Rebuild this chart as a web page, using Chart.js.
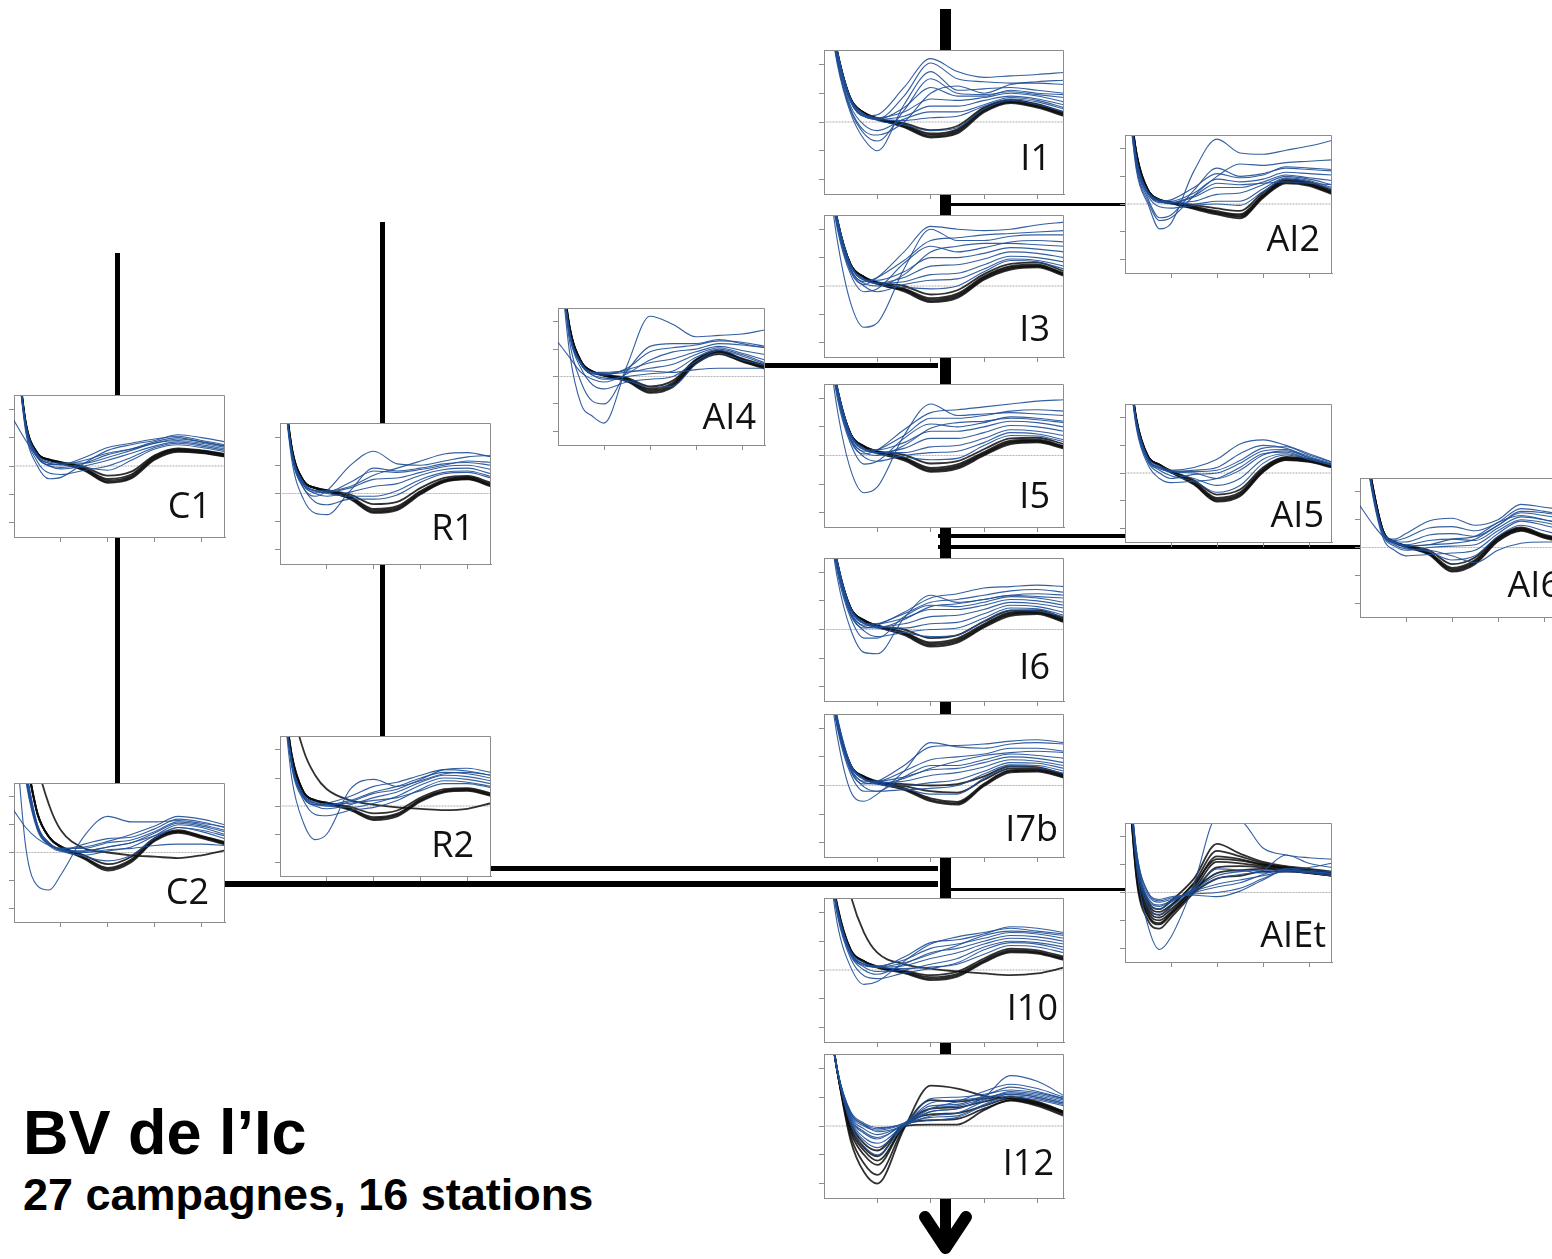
<!DOCTYPE html>
<html lang="fr">
<head>
<meta charset="utf-8">
<title>BV de l'Ic</title>
<script src="https://cdn.jsdelivr.net/npm/chart.js@4.4.1/dist/chart.umd.min.js"></script>
<style>
  html, body { margin: 0; padding: 0; background: #fff; }
  body { position: relative; width: 1552px; height: 1259px; overflow: hidden; }
  #network { position: absolute; left: 0; top: 0; z-index: 0; }
  canvas.mini { position: absolute; z-index: 1; }
  .lbl { position: absolute; z-index: 2; font-family: 'Open Sans', sans-serif; font-size: 36px; line-height: 36px; color: #111; white-space: nowrap; }
  .title { position: absolute; z-index: 2; left: 23px; font-family: 'Liberation Sans', Arial, sans-serif; font-weight: bold; color: #000; white-space: nowrap; }
</style>
</head>
<body>

<svg id="network" width="1552" height="1259">
  <g fill="#000">
    <rect x="940" y="9" width="11" height="1238"/>
    <rect x="115" y="253" width="5" height="530"/>
    <rect x="380" y="222" width="5" height="514"/>
    <rect x="951" y="203" width="174" height="3"/>
    <rect x="765" y="363" width="173" height="5"/>
    <rect x="938" y="534" width="187" height="4"/>
    <rect x="938" y="545" width="422" height="4"/>
    <rect x="491" y="866" width="447" height="5"/>
    <rect x="225" y="881" width="713" height="6"/>
    <rect x="951" y="888" width="174" height="3"/>
  </g>
  <polyline points="925,1217 945.5,1248 966,1217" fill="none" stroke="#000" stroke-width="12" stroke-linecap="round" stroke-linejoin="round"/>
</svg>

<div class="title" style="top:1101px;font-size:63px;line-height:63px;">BV de l’Ic</div>
<div class="title" style="top:1172px;font-size:45px;line-height:45px;">27 campagnes, 16 stations</div>

<script>
/* ============================================
   Data - one curve per campaign, per station
   ============================================ */

const xs = [0, 0.25, 0.5, 0.75, 1, 1.5, 2, 2.5, 3, 3.5, 4, 4.5];
const xTicks = [1, 2, 3, 4];
const yTicks = [-2, -1, 0, 1, 2];
const zeroLevel = 0;

const stations = ['I1', 'AI2', 'I3', 'AI4', 'I5', 'AI5', 'AI6', 'I6', 'I7b', 'AIEt', 'I10', 'I12', 'C1', 'R1', 'C2', 'R2'];

const I1_black = [
    [5, 2.4, 0.8, 0.32, 0.12, -0.12, -0.45, -0.3, 0.42, 0.72, 0.56, 0.27],
    [5.1, 2.45, 0.81, 0.31, 0.1, -0.15, -0.5, -0.35, 0.38, 0.69, 0.53, 0.24],
    [4.9, 2.35, 0.79, 0.33, 0.14, -0.09, -0.4, -0.25, 0.46, 0.75, 0.59, 0.3],
    [5, 2.4, 0.8, 0.31, 0.1, -0.04, -0.28, -0.14, 0.5, 0.77, 0.62, 0.34],
    [5.05, 2.42, 0.8, 0.3, 0.11, -0.18, -0.54, -0.4, 0.34, 0.66, 0.5, 0.21]
];
const I1_blue = [
    [5, 2.3, 0.7, 0.2, 0.25, 1.2, 2.2, 1.75, 1.55, 1.6, 1.65, 1.72],
    [5, 2.4, 0.75, 0.2, 0.1, 0.9, 2.05, 1.5, 1.4, 1.35, 1.35, 1.3],
    [5, 2.0, 0.3, -0.6, -1.0, 0.6, 1.75, 1.1, 1.15, 1.2, 1.1, 1.0],
    [5, 2.1, 0.4, -0.4, -0.66, 0.4, 1.5, 1.0, 0.95, 1.05, 0.95, 0.85],
    [5, 2.3, 0.7, 0.2, 0.1, 0.5, 1.2, 0.9, 0.9, 1.1, 1.0, 0.95],
    [5, 2.4, 0.75, 0.25, 0.15, 0.35, 0.8, 0.75, 0.85, 1.0, 0.9, 0.7],
    [5, 2.35, 0.7, 0.22, 0.1, 0.2, 0.55, 0.55, 0.75, 0.9, 0.8, 0.6],
    [5, 2.2, 0.55, -0.1, -0.3, 0.1, 0.35, 0.35, 0.6, 0.85, 0.75, 0.5],
    [5, 2.45, 0.8, 0.28, 0.1, 0.05, 0.15, 0.2, 0.55, 0.8, 0.7, 0.45],
    [5, 2.45, 0.8, 0.28, 0.05, -0.1, -0.3, -0.2, 0.45, 0.75, 0.6, 0.35],
    [5, 2.1, 0.45, -0.3, -0.45, 0.0, 1.0, 1.25, 1.0, 1.3, 1.4, 1.45]
];

const AI2_black = [
    [5, 1.8, 0.5, 0.15, 0.05, -0.12, -0.3, -0.42, 0.3, 0.82, 0.72, 0.42],
    [5.1, 1.85, 0.51, 0.14, 0.02, -0.15, -0.34, -0.47, 0.26, 0.78, 0.69, 0.39],
    [4.9, 1.75, 0.49, 0.16, 0.07, -0.09, -0.26, -0.37, 0.34, 0.86, 0.75, 0.45],
    [5, 1.8, 0.5, 0.16, 0.06, -0.04, -0.16, -0.25, 0.42, 0.9, 0.8, 0.5],
    [5, 1.82, 0.5, 0.14, 0.03, -0.18, -0.38, -0.52, 0.22, 0.75, 0.66, 0.36]
];
const AI2_blue = [
    [5, 1.2, 0.0, -0.9, -0.7, 1.2, 2.35, 1.85, 1.8, 1.95, 2.1, 2.3],
    [5, 1.4, 0.2, -0.5, -0.4, 0.5, 1.3, 1.0, 1.1, 1.3, 1.25, 1.2],
    [5, 1.6, 0.4, 0.1, 0.15, 0.6, 1.1, 0.95, 1.05, 1.35, 1.3, 1.25],
    [5, 1.6, 0.4, 0.1, 0.1, 0.4, 0.9, 0.8, 0.9, 1.15, 1.1, 1.05],
    [5, 1.55, 0.38, 0.05, 0.05, 0.25, 0.6, 0.6, 0.8, 1.05, 0.95, 0.85],
    [5, 1.65, 0.45, 0.15, 0.05, 0.1, 0.35, 0.4, 0.7, 1.0, 0.9, 0.7],
    [5, 1.65, 0.42, 0.1, 0.0, 0.0, 0.1, 0.1, 0.55, 0.95, 0.85, 0.6],
    [5, 1.5, 0.3, -0.1, -0.15, -0.05, 0.0, -0.05, 0.45, 0.9, 0.8, 0.55],
    [5, 1.55, 0.4, 0.1, 0.05, 0.3, 0.75, 0.7, 0.75, 0.8, 0.75, 0.7],
    [5, 1.3, 0.1, -0.6, -0.5, 0.3, 1.0, 1.45, 1.4, 1.5, 1.55, 1.6]
];

const I3_black = [
    [5, 2.3, 0.75, 0.32, 0.1, -0.12, -0.48, -0.32, 0.3, 0.66, 0.72, 0.42],
    [5.1, 2.35, 0.76, 0.3, 0.08, -0.15, -0.53, -0.37, 0.26, 0.62, 0.69, 0.39],
    [4.9, 2.25, 0.74, 0.33, 0.12, -0.09, -0.43, -0.27, 0.34, 0.7, 0.75, 0.45],
    [5, 2.3, 0.75, 0.32, 0.14, 0.0, -0.3, -0.15, 0.42, 0.78, 0.82, 0.52],
    [5.05, 2.32, 0.75, 0.31, 0.08, -0.19, -0.57, -0.42, 0.22, 0.58, 0.66, 0.36]
];
const I3_blue = [
    [5, 1.6, -0.6, -1.45, -1.3, 0.6, 2.0, 1.6, 1.6, 1.75, 1.8, 1.8],
    [5, 2.1, 0.5, 0.05, 0.3, 1.2, 2.1, 2.0, 1.95, 2.0, 2.15, 2.25],
    [5, 2.2, 0.6, 0.15, 0.3, 0.9, 1.6, 1.7, 1.8, 1.85, 1.9, 1.95],
    [5, 2.0, 0.4, -0.2, -0.1, 0.8, 1.4, 1.2, 1.35, 1.55, 1.6, 1.55],
    [5, 2.3, 0.7, 0.22, 0.2, 0.5, 1.0, 1.0, 1.15, 1.35, 1.3, 1.2],
    [5, 2.3, 0.7, 0.2, 0.1, 0.3, 0.7, 0.75, 0.95, 1.2, 1.15, 1.0],
    [5, 2.35, 0.72, 0.24, 0.1, 0.15, 0.4, 0.45, 0.75, 1.05, 1.0, 0.85],
    [5, 2.2, 0.55, 0.0, -0.2, 0.05, 0.2, 0.25, 0.6, 0.95, 0.9, 0.7],
    [5, 2.4, 0.75, 0.25, 0.05, -0.05, -0.1, 0.0, 0.5, 0.9, 0.85, 0.6],
    [5, 2.25, 0.6, 0.1, 0.0, 0.4, 1.2, 1.4, 1.5, 1.5, 1.45, 1.4]
];

const AI4_black = [
    [5, 1.8, 0.55, 0.18, 0.05, -0.12, -0.5, -0.28, 0.55, 0.88, 0.6, 0.34],
    [5.1, 1.85, 0.56, 0.17, 0.03, -0.15, -0.55, -0.33, 0.51, 0.85, 0.57, 0.31],
    [4.9, 1.75, 0.54, 0.19, 0.07, -0.09, -0.45, -0.23, 0.59, 0.91, 0.63, 0.37],
    [5, 1.8, 0.55, 0.18, 0.06, -0.05, -0.36, -0.15, 0.62, 0.94, 0.66, 0.4],
    [5.05, 1.82, 0.55, 0.17, 0.03, -0.18, -0.6, -0.38, 0.47, 0.82, 0.54, 0.28]
];
const AI4_blue = [
    [5, 0.9, -1.0, -1.45, -1.7, 0.4, 2.2, 1.9, 1.45, 1.5, 1.55, 1.7],
    [5, 1.3, -0.2, -0.9, -1.0, 0.2, 1.1, 1.2, 1.2, 1.35, 1.2, 1.05],
    [1.25, 0.7, 0.15, -0.1, -0.2, 0.1, 0.6, 0.9, 1.0, 1.2, 1.15, 1.05],
    [5, 1.6, 0.45, 0.1, 0.05, 0.3, 0.9, 1.05, 1.15, 1.3, 1.25, 1.1],
    [5, 1.6, 0.45, 0.1, 0.1, 0.25, 0.5, 0.65, 0.9, 1.1, 0.95, 0.8],
    [5, 1.65, 0.5, 0.15, 0.1, 0.15, 0.3, 0.45, 0.8, 1.05, 0.85, 0.6],
    [5, 1.6, 0.45, 0.05, -0.1, 0.0, 0.1, 0.2, 0.7, 1.0, 0.8, 0.5],
    [5, 1.5, 0.3, -0.3, -0.45, -0.2, -0.1, 0.0, 0.55, 0.95, 0.75, 0.45],
    [5, 1.65, 0.5, 0.15, 0.15, 0.2, 0.2, 0.15, 0.25, 0.3, 0.3, 0.3],
    [5, 1.6, 0.45, 0.05, -0.05, -0.15, -0.4, -0.35, 0.45, 0.85, 0.6, 0.4]
];

const I5_black = [
    [5, 2.3, 0.75, 0.32, 0.12, -0.1, -0.48, -0.36, 0.08, 0.48, 0.52, 0.3],
    [5.1, 2.35, 0.76, 0.3, 0.1, -0.13, -0.53, -0.41, 0.04, 0.44, 0.49, 0.27],
    [4.9, 2.25, 0.74, 0.33, 0.14, -0.07, -0.43, -0.31, 0.12, 0.52, 0.55, 0.33],
    [5, 2.3, 0.75, 0.32, 0.15, 0.02, -0.28, -0.2, 0.22, 0.6, 0.62, 0.4],
    [5.05, 2.32, 0.75, 0.31, 0.1, -0.17, -0.57, -0.46, 0.0, 0.4, 0.46, 0.24]
];
const I5_blue = [
    [5, 1.6, -0.5, -1.3, -1.1, 0.7, 1.8, 1.4, 1.45, 1.5, 1.45, 1.4],
    [5, 2.1, 0.5, 0.05, 0.2, 0.9, 1.5, 1.6, 1.7, 1.8, 1.9, 1.95],
    [5, 2.2, 0.6, 0.15, 0.2, 0.7, 1.3, 1.3, 1.4, 1.55, 1.6, 1.55],
    [5, 2.0, 0.4, -0.3, -0.2, 0.6, 1.1, 1.0, 1.15, 1.35, 1.3, 1.2],
    [5, 2.3, 0.7, 0.22, 0.2, 0.45, 0.85, 0.85, 1.0, 1.2, 1.15, 1.0],
    [5, 2.3, 0.7, 0.2, 0.1, 0.25, 0.6, 0.6, 0.8, 1.05, 1.0, 0.85],
    [5, 2.35, 0.72, 0.24, 0.1, 0.1, 0.3, 0.35, 0.6, 0.9, 0.85, 0.7],
    [5, 2.2, 0.55, -0.05, -0.2, 0.0, 0.1, 0.15, 0.45, 0.8, 0.75, 0.55],
    [5, 2.4, 0.75, 0.25, 0.05, -0.05, -0.15, -0.1, 0.35, 0.7, 0.68, 0.48],
    [5, 2.25, 0.6, 0.1, 0.0, 0.35, 0.95, 1.15, 1.2, 1.3, 1.25, 1.15]
];

const AI5_black = [
    [5, 1.9, 0.6, 0.3, 0.05, -0.35, -0.95, -0.75, 0.1, 0.52, 0.45, 0.25],
    [5.1, 1.95, 0.61, 0.29, 0.03, -0.39, -1.0, -0.8, 0.06, 0.49, 0.42, 0.22],
    [4.9, 1.85, 0.59, 0.31, 0.07, -0.31, -0.9, -0.7, 0.14, 0.55, 0.48, 0.28],
    [5, 1.9, 0.6, 0.3, 0.08, -0.26, -0.78, -0.6, 0.2, 0.58, 0.5, 0.3],
    [5.05, 1.92, 0.6, 0.29, 0.03, -0.42, -1.04, -0.84, 0.03, 0.47, 0.4, 0.2]
];
const AI5_blue = [
    [5, 1.8, 0.5, 0.2, 0.1, 0.2, 0.5, 1.05, 1.2, 1.0, 0.7, 0.4],
    [5, 1.8, 0.45, 0.15, 0.05, 0.1, 0.2, 0.7, 1.0, 0.9, 0.6, 0.35],
    [5, 1.7, 0.4, 0.0, -0.2, -0.05, 0.0, 0.35, 0.8, 0.85, 0.55, 0.3],
    [5, 1.85, 0.5, 0.2, 0.0, -0.2, -0.45, -0.2, 0.5, 0.7, 0.5, 0.3],
    [5, 1.75, 0.45, 0.1, -0.1, -0.3, -0.7, -0.45, 0.35, 0.65, 0.5, 0.28],
    [5, 1.8, 0.5, 0.2, 0.05, 0.0, -0.2, 0.1, 0.65, 0.8, 0.55, 0.32],
    [5, 1.6, 0.3, -0.2, -0.35, -0.3, -0.2, 0.2, 0.7, 0.75, 0.5, 0.3],
    [5, 1.85, 0.55, 0.25, 0.1, 0.05, 0.1, 0.45, 0.9, 0.95, 0.65, 0.4]
];

const AI6_black = [
    [5, 2.4, 0.6, 0.2, 0.05, -0.2, -0.78, -0.5, 0.3, 0.66, 0.4, 0.22],
    [5.1, 2.45, 0.61, 0.19, 0.03, -0.23, -0.83, -0.55, 0.26, 0.63, 0.37, 0.19],
    [4.9, 2.35, 0.59, 0.21, 0.07, -0.17, -0.73, -0.45, 0.34, 0.69, 0.43, 0.25],
    [5, 2.4, 0.6, 0.2, 0.07, -0.1, -0.6, -0.36, 0.38, 0.72, 0.46, 0.28],
    [5.05, 2.42, 0.6, 0.19, 0.02, -0.26, -0.87, -0.6, 0.22, 0.6, 0.35, 0.17]
];
const AI6_blue = [
    [1.5, 0.9, 0.4, 0.15, 0.05, 0.1, 0.3, 0.4, 0.9, 1.15, 1.0, 0.8],
    [5, 2.2, 0.5, 0.3, 0.5, 0.95, 1.05, 0.8, 1.0, 1.55, 1.45, 1.35],
    [5, 2.2, 0.5, 0.25, 0.35, 0.7, 0.75, 0.6, 0.9, 1.4, 1.3, 1.15],
    [5, 2.3, 0.55, 0.2, 0.2, 0.45, 0.5, 0.4, 0.8, 1.25, 1.15, 1.0],
    [5, 2.3, 0.55, 0.2, 0.1, 0.25, 0.3, 0.25, 0.7, 1.1, 1.0, 0.85],
    [5, 2.2, 0.45, 0.05, -0.1, 0.0, 0.05, 0.1, 0.6, 1.0, 0.9, 0.7],
    [5, 2.1, 0.35, -0.1, -0.3, -0.25, -0.2, -0.1, 0.5, 0.95, 0.8, 0.6],
    [5, 2.3, 0.5, 0.15, 0.0, -0.15, -0.45, -0.3, 0.4, 0.8, 0.6, 0.4],
    [5, 2.25, 0.5, 0.1, -0.05, -0.1, -0.3, -0.55, -0.1, 0.15, 0.2, 0.2],
    [5, 2.3, 0.55, 0.2, 0.05, 0.1, 0.15, 0.3, 0.8, 1.3, 1.25, 1.1]
];

const I6_black = [
    [5, 2.3, 0.75, 0.32, 0.12, -0.12, -0.5, -0.36, 0.15, 0.56, 0.6, 0.32],
    [5.1, 2.35, 0.76, 0.3, 0.1, -0.15, -0.55, -0.41, 0.11, 0.52, 0.57, 0.29],
    [4.9, 2.25, 0.74, 0.33, 0.14, -0.09, -0.45, -0.31, 0.19, 0.6, 0.63, 0.35],
    [5, 2.3, 0.75, 0.32, 0.14, 0.0, -0.3, -0.2, 0.28, 0.66, 0.68, 0.4],
    [5.05, 2.32, 0.75, 0.31, 0.1, -0.19, -0.6, -0.46, 0.07, 0.48, 0.54, 0.26]
];
const I6_blue = [
    [5, 1.8, 0.0, -0.8, -0.85, 0.4, 1.2, 0.95, 1.05, 1.2, 1.15, 1.1],
    [5, 2.1, 0.5, 0.05, 0.15, 0.6, 1.1, 1.25, 1.45, 1.5, 1.55, 1.5],
    [5, 2.2, 0.6, 0.15, 0.2, 0.55, 0.95, 1.05, 1.2, 1.35, 1.4, 1.3],
    [5, 2.0, 0.4, -0.3, -0.3, 0.45, 0.85, 0.8, 0.95, 1.15, 1.1, 0.95],
    [5, 2.3, 0.7, 0.22, 0.2, 0.4, 0.7, 0.7, 0.85, 1.05, 1.0, 0.85],
    [5, 2.3, 0.7, 0.2, 0.1, 0.2, 0.45, 0.5, 0.7, 0.95, 0.9, 0.75],
    [5, 2.35, 0.72, 0.24, 0.1, 0.05, 0.2, 0.25, 0.55, 0.85, 0.8, 0.6],
    [5, 2.2, 0.55, -0.05, -0.25, -0.1, 0.0, 0.05, 0.4, 0.75, 0.72, 0.5],
    [5, 2.4, 0.75, 0.25, 0.05, -0.1, -0.25, -0.2, 0.3, 0.68, 0.65, 0.45],
    [5, 2.25, 0.6, 0.1, 0.05, 0.35, 0.8, 0.9, 1.05, 1.2, 1.25, 1.2]
];

const I7b_black = [
    [5, 2.2, 0.7, 0.3, 0.1, -0.12, -0.5, -0.62, 0.02, 0.5, 0.52, 0.3],
    [5.1, 2.25, 0.71, 0.29, 0.08, -0.15, -0.55, -0.67, -0.02, 0.46, 0.49, 0.27],
    [4.9, 2.15, 0.69, 0.31, 0.12, -0.09, -0.45, -0.57, 0.06, 0.54, 0.55, 0.33],
    [5, 2.2, 0.7, 0.32, 0.15, 0.05, 0.0, 0.05, 0.32, 0.68, 0.64, 0.4],
    [5, 2.2, 0.7, 0.3, 0.12, -0.02, -0.2, -0.25, 0.2, 0.6, 0.6, 0.36]
];
const I7b_blue = [
    [5, 1.7, -0.2, -0.55, -0.3, 0.5, 1.5, 1.35, 1.3, 1.45, 1.5, 1.45],
    [5, 2.1, 0.5, 0.05, 0.15, 0.7, 1.35, 1.4, 1.45, 1.55, 1.6, 1.5],
    [5, 2.2, 0.6, 0.15, 0.15, 0.5, 0.9, 1.0, 1.1, 1.3, 1.3, 1.2],
    [5, 2.0, 0.4, -0.2, -0.2, 0.3, 0.7, 0.7, 0.9, 1.1, 1.05, 0.95],
    [5, 2.3, 0.7, 0.22, 0.15, 0.3, 0.55, 0.6, 0.8, 1.0, 0.95, 0.8],
    [5, 2.3, 0.7, 0.2, 0.1, 0.15, 0.35, 0.45, 0.65, 0.9, 0.85, 0.7],
    [5, 2.35, 0.72, 0.24, 0.05, 0.0, 0.1, 0.2, 0.5, 0.8, 0.78, 0.6],
    [5, 2.2, 0.55, -0.05, -0.2, -0.15, -0.1, 0.0, 0.4, 0.72, 0.7, 0.5],
    [5, 2.4, 0.75, 0.25, 0.05, -0.1, -0.3, -0.3, 0.25, 0.65, 0.62, 0.42],
    [5, 2.25, 0.6, 0.1, 0.05, 0.25, 0.6, 0.85, 1.05, 1.15, 1.2, 1.15]
];

const AIEt_black = [
    [6, 1.2, -0.3, -0.6, -0.3, 0.5, 1.75, 1.4, 1.1, 0.95, 0.85, 0.75],
    [6, 1.0, -0.5, -0.8, -0.5, 0.35, 1.5, 1.3, 1.05, 0.9, 0.8, 0.7],
    [6, 0.8, -0.7, -1.0, -0.7, 0.2, 1.3, 1.2, 1.0, 0.85, 0.78, 0.7],
    [6, 0.6, -0.85, -1.15, -0.8, 0.1, 1.1, 1.05, 0.95, 0.85, 0.75, 0.65],
    [6, 0.5, -1.0, -1.3, -0.9, 0.0, 0.9, 0.95, 0.9, 0.8, 0.72, 0.6],
    [6, 0.9, -0.6, -0.9, -0.6, 0.1, 0.7, 0.8, 0.85, 0.8, 0.7, 0.62],
    [6, 0.7, -0.8, -1.1, -0.75, 0.0, 0.5, 0.6, 0.75, 0.75, 0.7, 0.6],
    [6, 1.1, -0.4, -0.7, -0.45, 0.3, 1.2, 1.15, 1.0, 0.9, 0.8, 0.72]
];
const AIEt_blue = [
    [6, 0.9, -1.2, -2.05, -1.6, 0.3, 2.7, 2.6, 1.6, 1.35, 1.25, 1.2],
    [6, 1.3, -0.2, -0.45, -0.3, 0.1, 0.5, 0.65, 0.8, 1.35, 1.05, 0.9],
    [6, 1.4, -0.1, -0.35, -0.25, 0.0, 0.2, 0.35, 0.65, 0.85, 0.8, 0.75],
    [6, 1.5, 0.0, -0.3, -0.2, -0.05, 0.0, 0.15, 0.5, 0.8, 0.75, 0.7],
    [6, 1.2, -0.35, -0.6, -0.35, 0.05, 0.3, 0.45, 0.6, 0.75, 0.7, 0.6],
    [6, 1.1, -0.5, -0.8, -0.5, 0.1, 0.6, 0.75, 0.8, 0.8, 0.75, 0.68],
    [6, 1.5, 0.0, -0.25, -0.15, -0.1, -0.15, 0.05, 0.45, 0.8, 0.72, 0.65],
    [6, 1.3, -0.25, -0.5, -0.3, 0.15, 0.85, 0.8, 0.7, 0.85, 0.9, 1.05]
];

const I10_black = [
    [9, 5, 2.6, 1.3, 0.6, 0.2, 0.05, -0.05, -0.12, -0.18, -0.12, 0.08],
    [5, 2.2, 0.7, 0.3, 0.1, -0.08, -0.3, -0.18, 0.3, 0.65, 0.6, 0.38],
    [5.1, 2.25, 0.71, 0.29, 0.08, -0.11, -0.35, -0.23, 0.26, 0.61, 0.57, 0.35],
    [4.9, 2.15, 0.69, 0.31, 0.12, -0.05, -0.25, -0.13, 0.34, 0.69, 0.63, 0.41],
    [5, 2.2, 0.7, 0.3, 0.12, -0.02, -0.18, -0.06, 0.4, 0.74, 0.68, 0.46]
];
const I10_blue = [
    [5, 1.6, 0.1, -0.5, -0.4, 0.3, 0.9, 1.15, 1.3, 1.45, 1.35, 1.25],
    [5, 2.0, 0.55, 0.15, 0.1, 0.45, 0.95, 1.05, 1.25, 1.5, 1.45, 1.3],
    [5, 2.1, 0.6, 0.2, 0.15, 0.35, 0.75, 0.9, 1.1, 1.3, 1.25, 1.1],
    [5, 2.0, 0.5, 0.0, -0.15, 0.2, 0.6, 0.75, 1.0, 1.2, 1.15, 1.0],
    [5, 2.1, 0.6, 0.2, 0.1, 0.15, 0.4, 0.6, 0.9, 1.1, 1.05, 0.9],
    [5, 2.0, 0.55, 0.1, -0.05, 0.0, 0.2, 0.4, 0.8, 1.0, 0.95, 0.8],
    [5, 1.9, 0.4, -0.2, -0.3, -0.1, 0.05, 0.25, 0.7, 0.95, 0.9, 0.7],
    [5, 2.15, 0.65, 0.25, 0.1, 0.05, 0.1, 0.2, 0.55, 0.85, 0.8, 0.6],
    [5, 2.05, 0.6, 0.2, 0.1, 0.25, 0.55, 0.85, 1.2, 1.35, 1.3, 1.2]
];

const I12_black = [
    [5, 1.9, -0.5, -1.6, -2.0, -0.1, 1.4, 1.3, 1.05, 0.95, 0.75, 0.46],
    [5, 1.9, -0.35, -1.3, -1.7, -0.05, 0.9, 0.85, 0.95, 1.0, 0.8, 0.5],
    [5, 1.9, -0.2, -1.0, -1.35, 0.0, 0.4, 0.45, 0.7, 0.95, 0.8, 0.45],
    [5, 1.9, 0.0, -0.75, -1.05, 0.0, 0.05, 0.05, 0.55, 0.9, 0.75, 0.4],
    [5, 1.9, 0.1, -0.6, -0.85, 0.05, 0.2, 0.25, 0.6, 0.88, 0.7, 0.35],
    [5, 1.9, -0.1, -0.85, -1.2, 0.0, 0.6, 0.65, 0.85, 1.0, 0.85, 0.5]
];
const I12_blue = [
    [5, 1.95, 0.45, 0.05, -0.2, 0.0, 0.5, 0.6, 1.0, 1.75, 1.55, 1.05],
    [5, 1.95, 0.45, 0.05, -0.1, 0.1, 0.7, 0.75, 1.05, 1.35, 1.2, 0.95],
    [5, 1.9, 0.2, -0.4, -0.6, 0.05, 0.8, 0.9, 1.0, 1.1, 1.0, 0.8],
    [5, 1.9, 0.05, -0.7, -1.0, 0.0, 0.6, 0.7, 0.95, 1.15, 1.05, 0.85],
    [5, 1.95, 0.3, -0.2, -0.4, 0.05, 0.5, 0.6, 0.9, 1.2, 1.1, 0.9],
    [5, 1.95, 0.4, 0.0, -0.15, 0.05, 0.35, 0.45, 0.85, 1.1, 1.0, 0.8],
    [5, 1.9, 0.15, -0.5, -0.75, 0.0, 0.3, 0.35, 0.75, 1.05, 0.95, 0.75],
    [5, 1.95, 0.5, 0.1, -0.05, 0.1, 0.95, 1.0, 1.1, 1.25, 1.15, 0.95],
    [5, 1.9, 0.25, -0.25, -0.45, 0.05, 0.2, 0.3, 0.7, 1.0, 0.9, 0.7],
    [5, 1.95, 0.35, -0.1, -0.3, 0.05, 0.6, 0.85, 1.2, 1.45, 1.3, 1.0]
];

const C1_black = [
    [5, 1.5, 0.45, 0.22, 0.12, -0.1, -0.5, -0.35, 0.3, 0.56, 0.5, 0.38],
    [5.1, 1.55, 0.46, 0.21, 0.1, -0.13, -0.55, -0.4, 0.26, 0.53, 0.47, 0.35],
    [4.9, 1.45, 0.44, 0.23, 0.14, -0.07, -0.45, -0.3, 0.34, 0.59, 0.53, 0.41],
    [5, 1.5, 0.45, 0.22, 0.13, -0.03, -0.34, -0.2, 0.38, 0.62, 0.55, 0.43],
    [5.05, 1.52, 0.45, 0.21, 0.09, -0.16, -0.59, -0.44, 0.22, 0.5, 0.45, 0.33]
];
const C1_blue = [
    [1.6, 0.9, 0.3, 0.0, -0.05, 0.1, 0.4, 0.6, 0.85, 1.0, 0.85, 0.7],
    [5, 1.2, 0.0, -0.45, -0.4, 0.1, 0.55, 0.75, 0.9, 1.1, 1.0, 0.85],
    [5, 1.4, 0.3, 0.05, 0.05, 0.3, 0.65, 0.8, 0.95, 1.05, 0.9, 0.75],
    [5, 1.45, 0.35, 0.1, 0.05, 0.2, 0.45, 0.6, 0.8, 0.95, 0.85, 0.7],
    [5, 1.4, 0.3, 0.0, -0.1, 0.0, 0.2, 0.45, 0.7, 0.85, 0.75, 0.6],
    [5, 1.45, 0.35, 0.1, 0.05, -0.05, -0.15, 0.2, 0.6, 0.75, 0.65, 0.5],
    [5, 1.3, 0.15, -0.25, -0.3, -0.15, 0.0, 0.3, 0.65, 0.8, 0.7, 0.55],
    [5, 1.5, 0.4, 0.15, 0.1, 0.1, 0.3, 0.55, 0.8, 0.9, 0.8, 0.65]
];

const R1_black = [
    [5, 1.6, 0.45, 0.2, 0.1, -0.14, -0.6, -0.5, 0.05, 0.45, 0.55, 0.3],
    [5.1, 1.65, 0.46, 0.19, 0.08, -0.17, -0.65, -0.55, 0.01, 0.42, 0.52, 0.27],
    [4.9, 1.55, 0.44, 0.21, 0.12, -0.11, -0.55, -0.45, 0.09, 0.48, 0.58, 0.33],
    [5, 1.6, 0.45, 0.2, 0.12, -0.04, -0.38, -0.3, 0.2, 0.55, 0.62, 0.38],
    [5.05, 1.62, 0.45, 0.19, 0.07, -0.2, -0.69, -0.59, -0.03, 0.4, 0.5, 0.25]
];
const R1_blue = [
    [5, 1.4, 0.2, -0.1, 0.1, 1.0, 1.5, 1.05, 1.0, 1.15, 1.3, 1.35],
    [5, 1.2, -0.2, -0.7, -0.75, 0.1, 0.9, 0.8, 0.9, 1.05, 1.1, 1.0],
    [5, 1.45, 0.3, 0.05, 0.05, 0.4, 0.8, 0.75, 0.85, 1.0, 1.15, 1.1],
    [5, 1.5, 0.35, 0.1, 0.05, 0.2, 0.5, 0.55, 0.75, 0.95, 1.0, 0.85],
    [5, 1.4, 0.3, 0.0, -0.1, 0.05, 0.25, 0.35, 0.65, 0.85, 0.9, 0.7],
    [5, 1.5, 0.4, 0.1, 0.0, -0.1, -0.1, 0.1, 0.5, 0.75, 0.8, 0.6],
    [5, 1.35, 0.2, -0.3, -0.4, -0.2, -0.2, -0.05, 0.4, 0.7, 0.75, 0.55],
    [5, 1.5, 0.35, 0.1, 0.1, 0.25, 0.65, 0.9, 1.15, 1.4, 1.45, 1.3]
];

const C2_black = [
    [9, 6, 3.2, 1.7, 0.8, 0.15, 0.0, -0.1, -0.15, -0.2, -0.1, 0.08],
    [6, 3.5, 1.4, 0.55, 0.2, -0.2, -0.6, -0.3, 0.45, 0.74, 0.55, 0.32],
    [6.1, 3.55, 1.42, 0.54, 0.18, -0.23, -0.65, -0.35, 0.41, 0.71, 0.52, 0.29],
    [5.9, 3.45, 1.38, 0.56, 0.22, -0.17, -0.55, -0.25, 0.49, 0.77, 0.58, 0.35],
    [6, 3.5, 1.4, 0.55, 0.22, -0.1, -0.42, -0.15, 0.52, 0.8, 0.6, 0.38]
];
const C2_blue = [
    [1.5, 0.9, 0.5, 0.25, 0.1, 0.05, 0.2, 0.35, 0.6, 0.9, 0.8, 0.6],
    [5, 0.2, -1.2, -1.35, -0.8, 0.6, 1.3, 1.1, 1.1, 1.15, 1.05, 0.92],
    [6, 2.8, 0.9, 0.3, 0.1, 0.3, 0.5, 0.55, 0.85, 1.2, 1.1, 0.9],
    [6, 3.0, 1.0, 0.35, 0.15, 0.15, 0.35, 0.45, 0.75, 1.1, 1.0, 0.8],
    [6, 2.6, 0.8, 0.25, 0.05, 0.05, 0.2, 0.35, 0.7, 1.05, 0.95, 0.75],
    [6, 2.9, 0.9, 0.3, 0.05, -0.1, 0.05, 0.2, 0.6, 1.0, 0.9, 0.65],
    [6, 2.7, 0.85, 0.3, 0.1, 0.0, 0.1, 0.15, 0.25, 0.3, 0.3, 0.25],
    [6, 3.1, 1.0, 0.35, 0.1, -0.15, -0.3, -0.1, 0.5, 0.9, 0.75, 0.5],
    [6, 2.8, 0.9, 0.3, 0.15, 0.2, 0.4, 0.65, 0.95, 1.3, 1.2, 1.0]
];

const R2_black = [
    [8, 3.8, 2.0, 1.1, 0.6, 0.2, 0.05, -0.05, -0.1, -0.15, -0.1, 0.1],
    [5, 1.8, 0.5, 0.2, 0.1, -0.12, -0.45, -0.32, 0.2, 0.52, 0.57, 0.39],
    [5.1, 1.85, 0.51, 0.19, 0.08, -0.15, -0.5, -0.37, 0.16, 0.49, 0.54, 0.36],
    [4.9, 1.75, 0.49, 0.21, 0.12, -0.09, -0.4, -0.27, 0.24, 0.55, 0.6, 0.42],
    [5, 1.8, 0.5, 0.2, 0.12, -0.03, -0.26, -0.16, 0.3, 0.6, 0.64, 0.45]
];
const R2_blue = [
    [5, 1.0, -0.6, -1.2, -1.0, 0.6, 0.95, 0.7, 0.9, 1.15, 1.2, 1.1],
    [5, 1.5, 0.3, 0.05, 0.1, 0.35, 0.7, 0.85, 1.1, 1.3, 1.25, 1.1],
    [5, 1.55, 0.35, 0.1, 0.05, 0.2, 0.5, 0.7, 1.0, 1.2, 1.15, 1.0],
    [5, 1.5, 0.3, 0.0, -0.1, 0.05, 0.3, 0.5, 0.85, 1.1, 1.05, 0.9],
    [5, 1.6, 0.4, 0.1, 0.0, -0.05, 0.1, 0.35, 0.75, 1.0, 0.95, 0.8],
    [5, 1.4, 0.2, -0.3, -0.35, -0.15, -0.05, 0.2, 0.6, 0.9, 0.85, 0.7],
    [5, 1.6, 0.4, 0.15, 0.05, 0.1, 0.2, 0.3, 0.55, 0.8, 0.8, 0.65],
    [5, 1.5, 0.35, 0.05, 0.0, 0.15, 0.45, 0.6, 0.95, 1.3, 1.35, 1.2]
];

const seriesByStation = {
    I1: [I1_black, I1_blue], AI2: [AI2_black, AI2_blue], I3: [I3_black, I3_blue],
    AI4: [AI4_black, AI4_blue], I5: [I5_black, I5_blue], AI5: [AI5_black, AI5_blue],
    AI6: [AI6_black, AI6_blue], I6: [I6_black, I6_blue], I7b: [I7b_black, I7b_blue],
    AIEt: [AIEt_black, AIEt_blue], I10: [I10_black, I10_blue], I12: [I12_black, I12_blue],
    C1: [C1_black, C1_blue], R1: [R1_black, R1_blue], C2: [C2_black, C2_blue], R2: [R2_black, R2_blue]
};

/* ============================================
   Layout - plot box of each station (px), label offsets
   ============================================ */

const boxes = {
    I1:   { x: 824,  y: 50,   w: 240, h: 144, lr: 15, lb: 23 },
    I3:   { x: 824,  y: 215,  w: 240, h: 142, lr: 16, lb: 15 },
    I5:   { x: 824,  y: 384,  w: 240, h: 143, lr: 16, lb: 18 },
    I6:   { x: 824,  y: 558,  w: 240, h: 143, lr: 16, lb: 21 },
    I7b:  { x: 824,  y: 714,  w: 240, h: 143, lr: 8,  lb: 15 },
    I10:  { x: 824,  y: 898,  w: 240, h: 144, lr: 8,  lb: 21 },
    I12:  { x: 824,  y: 1054, w: 240, h: 144, lr: 12, lb: 22 },
    AI2:  { x: 1125, y: 135,  w: 207, h: 138, lr: 14, lb: 21 },
    AI4:  { x: 558,  y: 308,  w: 207, h: 137, lr: 11, lb: 15 },
    AI5:  { x: 1125, y: 404,  w: 207, h: 138, lr: 10, lb: 14 },
    AI6:  { x: 1360, y: 478,  w: 207, h: 139, lr: 8,  lb: 19 },
    AIEt: { x: 1125, y: 823,  w: 207, h: 139, lr: 8,  lb: 14 },
    C1:   { x: 14,   y: 395,  w: 211, h: 142, lr: 16, lb: 18 },
    R1:   { x: 280,  y: 423,  w: 211, h: 141, lr: 19, lb: 23 },
    C2:   { x: 14,   y: 783,  w: 211, h: 139, lr: 18, lb: 17 },
    R2:   { x: 280,  y: 736,  w: 211, h: 140, lr: 19, lb: 18 }
};

const BLUE = 'rgba(30, 78, 150, 0.9)';
const BLACK = 'rgba(12, 12, 12, 0.85)';
const AXIS = '#8c8c8c';
const TICK = 5;

/* ============================================
   Mini charts
   ============================================ */

function curve(ys) {
    return ys.map((y, i) => ({ x: xs[i], y: y }));
}

const boxFrame = {
    id: 'boxFrame',
    beforeDraw(chart) {
        const a = chart.chartArea, ctx = chart.ctx;
        ctx.save();
        ctx.fillStyle = '#fff';
        ctx.fillRect(a.left, a.top, a.right - a.left, a.bottom - a.top);
        ctx.restore();
    },
    afterDraw(chart) {
        const a = chart.chartArea, ctx = chart.ctx;
        ctx.save();
        ctx.strokeStyle = AXIS;
        ctx.lineWidth = 1;
        ctx.beginPath();
        ctx.moveTo(a.left, a.top + 0.5);
        ctx.lineTo(a.right - 0.5, a.top + 0.5);
        ctx.lineTo(a.right - 0.5, a.bottom);
        ctx.stroke();
        ctx.restore();
    }
};

function axis(min, max, values) {
    return {
        type: 'linear', min: min, max: max,
        ticks: { display: false, stepSize: 1 },
        afterBuildTicks: s => { s.ticks = values.map(v => ({ value: v })); },
        grid: { drawOnChartArea: false, drawTicks: true, tickLength: TICK, color: AXIS, lineWidth: 1 },
        border: { display: true, color: AXIS, width: 1 }
    };
}

function drawStation(name) {
    const b = boxes[name];
    const [black, blue] = seriesByStation[name];

    const cv = document.createElement('canvas');
    cv.className = 'mini';
    cv.width = b.w + TICK + 1;
    cv.height = b.h + TICK + 1;
    cv.style.width = cv.width + 'px';
    cv.style.height = cv.height + 'px';
    cv.style.left = (b.x - TICK) + 'px';
    cv.style.top = (b.y - 1) + 'px';
    document.body.appendChild(cv);

    const datasets = [];
    blue.forEach(ys => datasets.push({ data: curve(ys), borderColor: BLUE, borderWidth: 1.1, clip: 0 }));
    black.forEach(ys => datasets.push({ data: curve(ys), borderColor: BLACK, borderWidth: 1.8, clip: 0 }));
    datasets.push({
        data: [{ x: xs[0], y: zeroLevel }, { x: xs[xs.length - 1], y: zeroLevel }],
        borderColor: '#9a9a9a', borderWidth: 1, borderDash: [1, 2], clip: 0
    });

    const chart = new Chart(cv.getContext('2d'), {
        type: 'line',
        data: { datasets },
        options: {
            responsive: false,
            animation: false,
            events: [],
            layout: { padding: { left: 0, top: 1, right: 1, bottom: 0 } },
            plugins: { legend: { display: false }, tooltip: { enabled: false } },
            elements: {
                point: { radius: 0 },
                line: { cubicInterpolationMode: 'monotone', borderCapStyle: 'round', borderJoinStyle: 'round', fill: false }
            },
            scales: { x: axis(0, 4.5, xTicks), y: axis(-2.5, 2.5, yTicks) }
        },
        plugins: [boxFrame]
    });

    // align the plot area with the box, whatever room the axes took
    cv.style.left = (b.x - chart.chartArea.left) + 'px';
    cv.style.top = (b.y - chart.chartArea.top) + 'px';

    const lbl = document.createElement('div');
    lbl.className = 'lbl';
    lbl.textContent = name;
    lbl.style.right = (1552 - (b.x + b.w - b.lr + 2)) + 'px';
    lbl.style.top = (b.y + b.h - b.lb - 32) + 'px';
    document.body.appendChild(lbl);
}

stations.forEach(drawStation);
</script>
</body>
</html>
